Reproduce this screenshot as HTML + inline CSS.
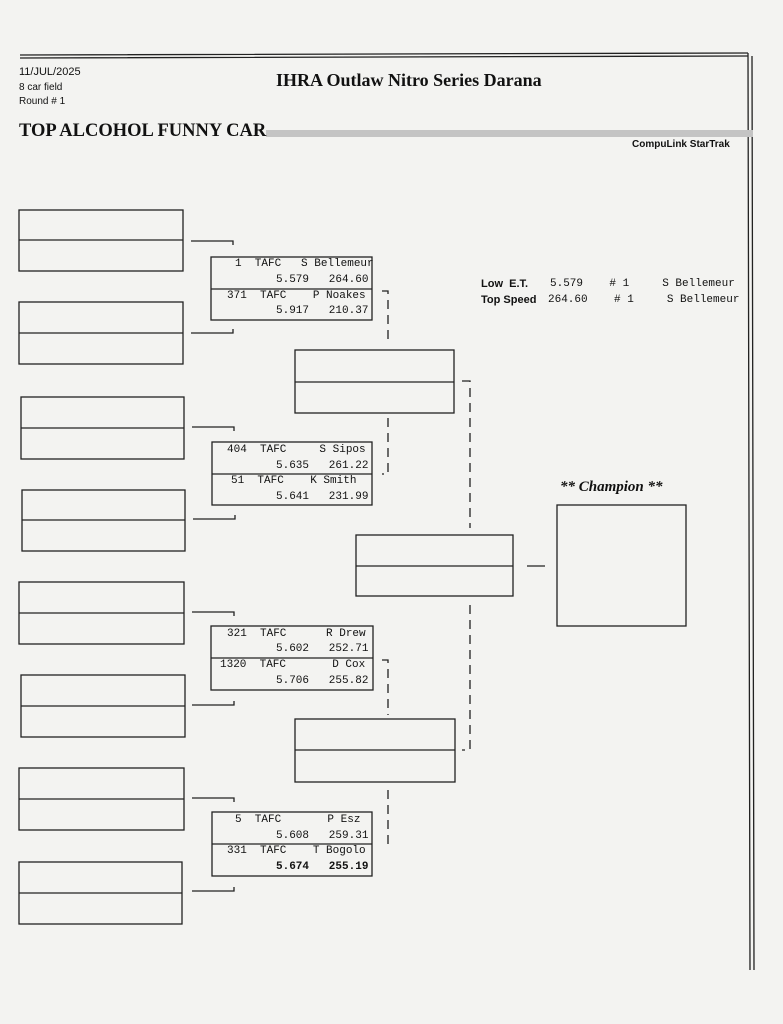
<!DOCTYPE html>
<html><head><meta charset="utf-8"><style>
body{margin:0;width:783px;height:1024px;background:#f3f3f1;position:relative;overflow:hidden;font-family:"Liberation Sans",sans-serif;color:#111}
.t{position:absolute;white-space:nowrap}
.m{font-family:"Liberation Mono",monospace;font-size:11px;position:absolute;white-space:nowrap}
.s{font-family:"Liberation Serif",serif;font-weight:bold}
</style></head><body>
<svg width="783" height="1024" style="position:absolute;left:0;top:0" fill="none" stroke="#222" stroke-width="1.3">
<path d="M20 55 L748 53 M20 58 L748 56"/>
<path d="M748 53 L750 970 M752 56 L754 970"/>
<rect x="266" y="130" width="487" height="7" fill="#c4c4c4" stroke="none"/>
<g>
<rect x="19" y="210" width="164" height="61"/><line x1="19" y1="240" x2="183" y2="240"/>
<rect x="19" y="302" width="164" height="62"/><line x1="19" y1="333" x2="183" y2="333"/>
<rect x="21" y="397" width="163" height="62"/><line x1="21" y1="428" x2="184" y2="428"/>
<rect x="22" y="490" width="163" height="61"/><line x1="22" y1="520" x2="185" y2="520"/>
<rect x="19" y="582" width="165" height="62"/><line x1="19" y1="613" x2="184" y2="613"/>
<rect x="21" y="675" width="164" height="62"/><line x1="21" y1="706" x2="185" y2="706"/>
<rect x="19" y="768" width="165" height="62"/><line x1="19" y1="799" x2="184" y2="799"/>
<rect x="19" y="862" width="163" height="62"/><line x1="19" y1="893" x2="182" y2="893"/>
</g>
<path d="M191 241 H233 V245 M191 333 H233 V329 M192 427 H234 V431 M193 519 H235 V515 M192 612 H234 V616 M192 705 H234 V701 M192 798 H234 V802 M192 891 H234 V887"/>
<g>
<rect x="211" y="257" width="161" height="63"/><line x1="211" y1="289" x2="372" y2="289"/>
<rect x="212" y="442" width="160" height="63"/><line x1="212" y1="474" x2="372" y2="474"/>
<rect x="211" y="626" width="162" height="64"/><line x1="211" y1="658" x2="373" y2="658"/>
<rect x="212" y="812" width="160" height="64"/><line x1="212" y1="844" x2="372" y2="844"/>
</g>
<rect x="295" y="350" width="159" height="63"/><line x1="295" y1="382" x2="454" y2="382"/>
<rect x="295" y="719" width="160" height="63"/><line x1="295" y1="750" x2="455" y2="750"/>
<rect x="356" y="535" width="157" height="61"/><line x1="356" y1="566" x2="513" y2="566"/>
<rect x="557" y="505" width="129" height="121"/>
<line x1="527" y1="566" x2="545" y2="566"/>
<g stroke-dasharray="9,6">
<path d="M382 291 H388 V345 M388 418 V474 H382"/>
<path d="M382 660 H388 V715 M388 790 V844 H382"/>
<path d="M462 381 H470 V528 M470 605 V750 H462"/>
</g>
</svg>
<div class="t" style="left:19px;top:66px;font-size:11px">11/JUL/2025</div>
<div class="t" style="left:19px;top:82px;font-size:10px">8 car field</div>
<div class="t" style="left:19px;top:96px;font-size:10px">Round # 1</div>
<div class="t s" style="left:276px;top:70px;font-size:18px">IHRA Outlaw Nitro Series Darana</div>
<div class="t s" style="left:19px;top:121px;font-size:18.5px">TOP ALCOHOL FUNNY CAR</div>
<div class="t" style="left:632px;top:139px;font-size:10px;font-weight:bold">CompuLink StarTrak</div>
<div class="t" style="left:481px;top:278px;font-size:11px;font-weight:bold">Low &nbsp;E.T.</div>
<div class="t" style="left:481px;top:294px;font-size:11px;font-weight:bold">Top Speed</div>
<div class="m" style="left:550px;top:278px">5.579 &nbsp;&nbsp;&nbsp;# 1 &nbsp;&nbsp;&nbsp;&nbsp;S Bellemeur</div>
<div class="m" style="left:548px;top:294px">264.60 &nbsp;&nbsp;&nbsp;# 1 &nbsp;&nbsp;&nbsp;&nbsp;S Bellemeur</div>
<div class="t" style="left:560px;top:479px;font-family:'Liberation Serif',serif;font-style:italic;font-weight:bold;font-size:15px">** Champion **</div>

<div class="m" style="left:235px;top:258px">1 &nbsp;TAFC &nbsp;&nbsp;S Bellemeur</div>
<div class="m" style="left:276px;top:274px">5.579 &nbsp;&nbsp;264.60</div>
<div class="m" style="left:227px;top:290px">371 &nbsp;TAFC &nbsp;&nbsp;&nbsp;P Noakes</div>
<div class="m" style="left:276px;top:305px">5.917 &nbsp;&nbsp;210.37</div>

<div class="m" style="left:227px;top:444px">404 &nbsp;TAFC &nbsp;&nbsp;&nbsp;&nbsp;S Sipos</div>
<div class="m" style="left:276px;top:460px">5.635 &nbsp;&nbsp;261.22</div>
<div class="m" style="left:231px;top:475px">51 &nbsp;TAFC &nbsp;&nbsp;&nbsp;K Smith</div>
<div class="m" style="left:276px;top:491px">5.641 &nbsp;&nbsp;231.99</div>

<div class="m" style="left:227px;top:628px">321 &nbsp;TAFC &nbsp;&nbsp;&nbsp;&nbsp;&nbsp;R Drew</div>
<div class="m" style="left:276px;top:643px">5.602 &nbsp;&nbsp;252.71</div>
<div class="m" style="left:220px;top:659px">1320 &nbsp;TAFC &nbsp;&nbsp;&nbsp;&nbsp;&nbsp;&nbsp;D Cox</div>
<div class="m" style="left:276px;top:675px">5.706 &nbsp;&nbsp;255.82</div>

<div class="m" style="left:235px;top:814px">5 &nbsp;TAFC &nbsp;&nbsp;&nbsp;&nbsp;&nbsp;&nbsp;P Esz</div>
<div class="m" style="left:276px;top:830px">5.608 &nbsp;&nbsp;259.31</div>
<div class="m" style="left:227px;top:845px">331 &nbsp;TAFC &nbsp;&nbsp;&nbsp;T Bogolo</div>
<div class="m" style="left:276px;top:861px;font-weight:bold">5.674 &nbsp;&nbsp;255.19</div>
</body></html>
